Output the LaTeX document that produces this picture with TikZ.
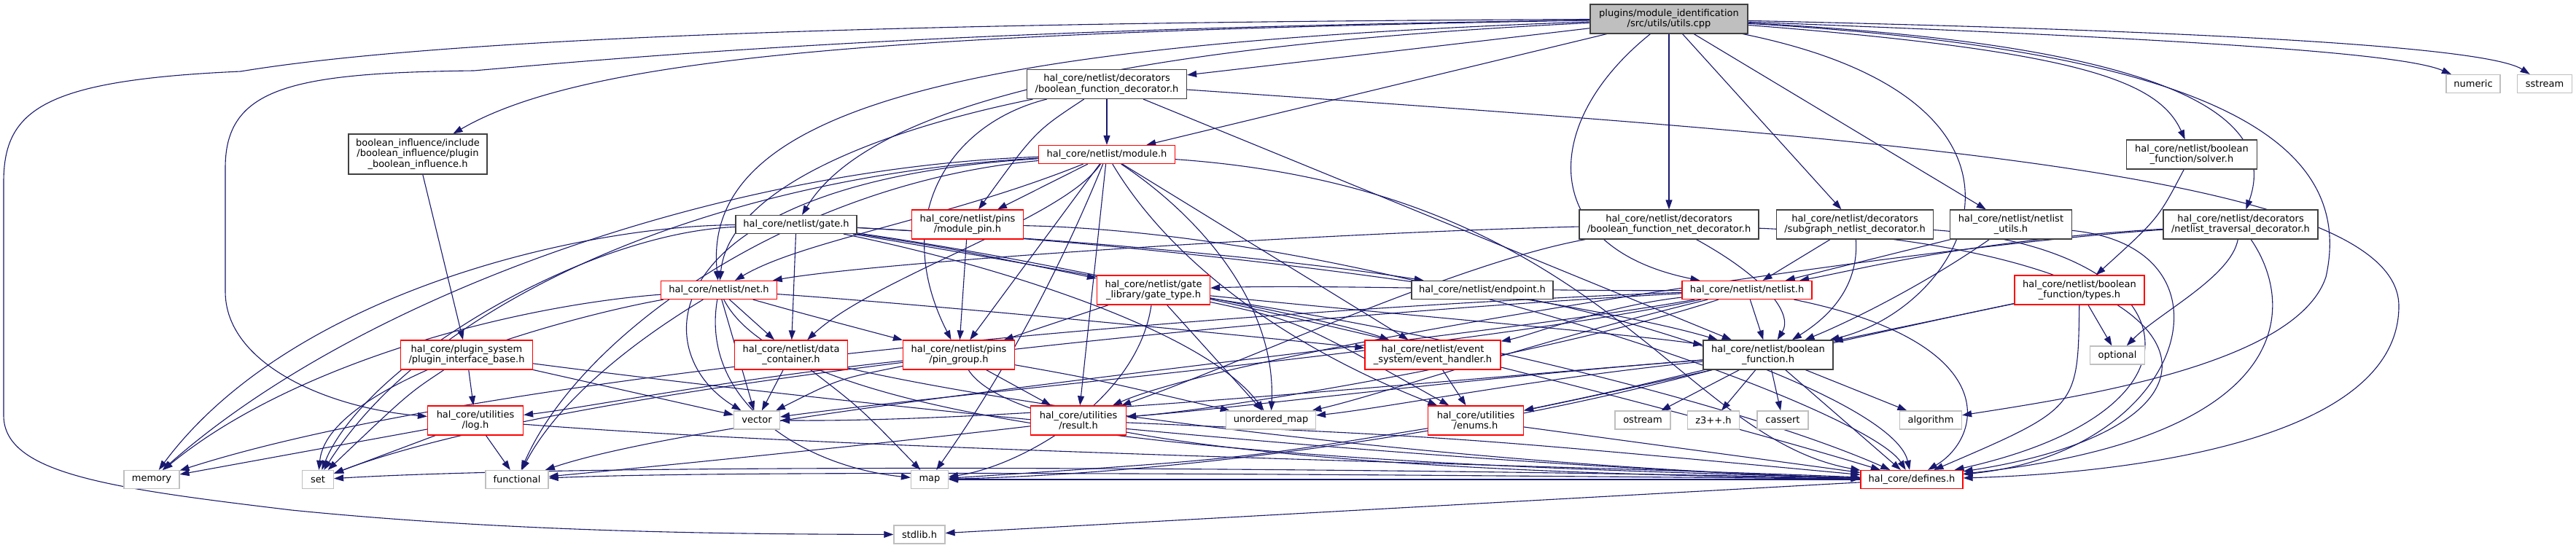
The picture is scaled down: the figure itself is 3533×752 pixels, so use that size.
\documentclass[tikz,border=0pt]{standalone}
\usepackage{fontspec}
\setmainfont{DejaVu Sans}
\usetikzlibrary{arrows.meta}
\definecolor{edgec}{HTML}{191970}
\definecolor{redb}{HTML}{FF0000}
\definecolor{grayb}{HTML}{BFBFBF}
\definecolor{blackb}{HTML}{404040}
\definecolor{rootfill}{HTML}{BFBFBF}
\pgfdeclarelayer{back}
\pgfdeclarelayer{edges}
\pgfsetlayers{back,edges,main}
\tikzset{
 nd/.style={rectangle, inner sep=0pt, align=center, font=\fontsize{13}{14.5}\selectfont, line width=1.2pt, fill=white},
 blk/.style={nd, draw=blackb},
 rd/.style={nd, draw=redb},
 gr/.style={nd, draw=grayb},
 e/.style={draw=edgec, line width=1.1pt, -{Triangle[length=13pt,width=9pt]}},
}
\begin{document}
\begin{tikzpicture}[x=1pt,y=-1pt]
\useasboundingbox (0,0) rectangle (3533,752);
\begin{pgfonlayer}{back}
\fill[white] (0,0) rectangle (3533,752);
\end{pgfonlayer}
% nodes
\node[blk, fill=rootfill, minimum width=216pt, minimum height=40pt] (R) at (2289,26) {plugins/module\_identification\\/src/utils/utils.cpp};
\node[blk, minimum width=190pt, minimum height=55pt] (bi) at (573,211.5) {boolean\_influence/include\\/boolean\_influence/plugin\\\_boolean\_influence.h};
\node[blk, minimum width=219pt, minimum height=40pt] (bfd) at (1518,115.5) {hal\_core/netlist/decorators\\/boolean\_function\_decorator.h};
\node[rd, minimum width=187pt, minimum height=25pt] (mod) at (1518,212) {hal\_core/netlist/module.h};
\node[rd, minimum width=153pt, minimum height=40pt] (mpin) at (1327,308) {hal\_core/netlist/pins\\/module\_pin.h};
\node[blk, minimum width=166pt, minimum height=25pt] (gate) at (1092,308) {hal\_core/netlist/gate.h};
\node[rd, minimum width=159pt, minimum height=25pt] (net) at (986,398) {hal\_core/netlist/net.h};
\node[rd, minimum width=181pt, minimum height=40pt] (pib) at (640,487) {hal\_core/plugin\_system\\/plugin\_interface\_base.h};
\node[rd, minimum width=131pt, minimum height=40pt] (log) at (652,577) {hal\_core/utilities\\/log.h};
\node[gr, minimum width=76pt, minimum height=25pt] (nmem) at (208,658) {memory};
\node[gr, minimum width=43pt, minimum height=25pt] (nset) at (436,658) {set};
\node[gr, minimum width=86pt, minimum height=25pt] (nfun) at (709,658) {functional};
\node[gr, minimum width=63pt, minimum height=25pt] (nvec) at (1038,576.5) {vector};
\node[rd, minimum width=155pt, minimum height=40pt] (dc) at (1085,487) {hal\_core/netlist/data\\\_container.h};
\node[rd, minimum width=155pt, minimum height=40pt] (gt) at (1582,398) {hal\_core/netlist/gate\\\_library/gate\_type.h};
\node[rd, minimum width=153pt, minimum height=40pt] (pg) at (1315,487) {hal\_core/netlist/pins\\/pin\_group.h};
\node[rd, minimum width=131pt, minimum height=40pt] (res) at (1479,577) {hal\_core/utilities\\/result.h};
\node[gr, minimum width=51pt, minimum height=25pt] (nmap) at (1275,658) {map};
\node[gr, minimum width=70pt, minimum height=25pt] (nstd) at (1261,733.5) {stdlib.h};
\node[gr, minimum width=123pt, minimum height=25pt] (numap) at (1743,576.5) {unordered\_map};
\node[blk, minimum width=194pt, minimum height=25pt] (ep) at (2033,398) {hal\_core/netlist/endpoint.h};
\node[rd, minimum width=186pt, minimum height=40pt] (eh) at (1965,487) {hal\_core/netlist/event\\\_system/event\_handler.h};
\node[rd, minimum width=131pt, minimum height=40pt] (en) at (2024,577) {hal\_core/utilities\\/enums.h};
\node[gr, minimum width=76pt, minimum height=25pt] (nost) at (2253,576.5) {ostream};
\node[gr, minimum width=71pt, minimum height=25pt] (nz3) at (2350,576.5) {z3++.h};
\node[gr, minimum width=70pt, minimum height=25pt] (ncas) at (2445,576.5) {cassert};
\node[gr, minimum width=85pt, minimum height=25pt] (nalg) at (2648,576.5) {algorithm};
\node[rd, minimum width=140pt, minimum height=25pt] (def) at (2622,658) {hal\_core/defines.h};
\node[blk, minimum width=178pt, minimum height=40pt] (bf) at (2425,487) {hal\_core/netlist/boolean\\\_function.h};
\node[rd, minimum width=178pt, minimum height=25pt] (nl) at (2396,398) {hal\_core/netlist/netlist.h};
\node[rd, minimum width=178pt, minimum height=40pt] (ty) at (2852,398) {hal\_core/netlist/boolean\\\_function/types.h};
\node[gr, minimum width=75pt, minimum height=25pt] (nopt) at (2904,487.5) {optional};
\node[blk, minimum width=246pt, minimum height=40pt] (bfnd) at (2289,308) {hal\_core/netlist/decorators\\/boolean\_function\_net\_decorator.h};
\node[blk, minimum width=215pt, minimum height=40pt] (sg) at (2544,308) {hal\_core/netlist/decorators\\/subgraph\_netlist\_decorator.h};
\node[blk, minimum width=167pt, minimum height=40pt] (nu) at (2758,308) {hal\_core/netlist/netlist\\\_utils.h};
\node[blk, minimum width=179pt, minimum height=40pt] (sol) at (3006,212) {hal\_core/netlist/boolean\\\_function/solver.h};
\node[blk, minimum width=212pt, minimum height=40pt] (tr) at (3073,308) {hal\_core/netlist/decorators\\/netlist\_traversal\_decorator.h};
\node[gr, minimum width=74pt, minimum height=25pt] (nnum) at (3392,115) {numeric};
\node[gr, minimum width=75pt, minimum height=25pt] (nsst) at (3490,115) {sstream};
% edges
\begin{pgfonlayer}{edges}
% root
\draw[e] (R) .. controls (1200,45) and (800,80) .. (bi);
\draw[e] (R) .. controls (1400,30) and (650,45) .. (330,98) .. controls (60,110) and (5,150) .. (5,250) -- (5,570) .. controls (5,650) and (150,670) .. (400,700) .. controls (700,730) and (1000,733) .. (nstd);
\draw[e] (R) .. controls (1300,40) and (900,75) .. (650,97) .. controls (400,100) and (309,120) .. (309,230) -- (309,400) .. controls (309,500) and (450,560) .. (log);
\draw[e] (R) .. controls (1600,60) and (1200,130) .. (gate);
\draw[e] (R) .. controls (1350,60) and (960,140) .. (net);
\draw[e] (R) .. controls (2000,60) .. (bfd);
\draw[e] (R) -- (mod);
\draw[e] (R) -- (bfnd);
\draw[e] (R) -- (sg);
\draw[e] (R) -- (nu);
\draw[e] (R) .. controls (2110,170) and (2110,340) .. (nl);
\draw[e] (R) .. controls (2850,140) and (2700,420) .. (bf);
\draw[e] (R) .. controls (2850,70) and (2960,110) .. (sol);
\draw[e] (R) .. controls (2950,60) and (3130,150) .. (tr);
\draw[e] (R) .. controls (3050,55) and (3300,75) .. (nnum);
\draw[e] (R) .. controls (3150,45) and (3420,70) .. (nsst);
\draw[e] (R) .. controls (3050,70) and (3230,200) .. (3190,380) .. controls (3150,500) and (2850,545) .. (nalg);
% bool influence
\draw[e] (bi) -- (pib);
% bfd
\draw[e] (bfd) -- (mod);
\draw[e] (bfd) .. controls (1420,180) .. (mpin);
\draw[e] (bfd) .. controls (1300,170) and (1220,300) .. (pg);
\draw[e] (bfd) .. controls (1200,180) and (1000,260) .. (net);
\draw[e] (bfd) -- (bf);
\draw[e] (bfd) .. controls (2600,190) and (3290,240) .. (3290,420) .. controls (3290,610) and (2900,650) .. (def);
% module
\draw[e] (mod) -- (mpin);
\draw[e] (mod) -- (pg);
\draw[e] (mod) .. controls (1300,300) and (1100,330) .. (net);
\draw[e] (mod) .. controls (1460,300) and (1200,380) .. (dc);
\draw[e] (mod) -- (eh);
\draw[e] (mod) -- (res);
\draw[e] (mod) .. controls (1600,350) and (1750,470) .. (en);
\draw[e] (mod) .. controls (1000,230) and (500,400) .. (nmem);
\draw[e] (mod) .. controls (1000,240) and (600,400) .. (nset);
\draw[e] (mod) .. controls (1100,250) and (800,450) .. (nfun);
\draw[e] (mod) .. controls (900,250) and (880,480) .. (nvec);
\draw[e] (mod) .. controls (1470,330) and (1400,480) .. (nmap);
\draw[e] (mod) .. controls (1650,300) and (1750,420) .. (numap);
\draw[e] (mod) .. controls (2200,260) and (2300,600) .. (def);
% module pin
\draw[e] (mpin) -- (pg);
\draw[e] (mpin) .. controls (1900,320) and (2560,560) .. (def);
% gate
\draw[e] (gate) .. controls (1300,340) .. (gt);
\draw[e] (gate) .. controls (1500,330) and (1800,360) .. (ep);
\draw[e] (gate) .. controls (1400,360) and (1800,430) .. (eh);
\draw[e] (gate) -- (dc);
\draw[e] (gate) .. controls (1700,340) and (2200,420) .. (bf);
\draw[e] (gate) .. controls (800,310) and (400,400) .. (nmem);
\draw[e] (gate) .. controls (800,320) and (500,500) .. (nset);
\draw[e] (gate) .. controls (1350,360) and (1650,450) .. (numap);
\draw[e] (gate) .. controls (1600,380) and (2300,560) .. (def);
% net
\draw[e] (net) -- (dc);
\draw[e] (net) .. controls (1300,420) and (1700,460) .. (eh);
\draw[e] (net) .. controls (1100,430) .. (pg);
\draw[e] (net) .. controls (700,420) and (400,500) .. (nmem);
\draw[e] (net) .. controls (800,430) and (450,520) .. (nset);
\draw[e] (net) .. controls (850,480) and (760,560) .. (nfun);
\draw[e] (net) -- (nvec);
\draw[e] (net) .. controls (960,550) and (1100,640) .. (nmap);
\draw[e] (net) .. controls (1100,620) and (2000,640) .. (def);
% gate type
\draw[e] (gt) -- (pg);
\draw[e] (gt) .. controls (1900,430) and (2250,460) .. (bf);
\draw[e] (gt) .. controls (1780,440) .. (en);
\draw[e] (gt) .. controls (1560,550) and (1400,640) .. (nmap);
\draw[e] (gt) -- (numap);
\draw[e] (gt) .. controls (2000,460) and (2400,560) .. (def);
% endpoint
\draw[e] (ep) .. controls (2300,450) and (2600,560) .. (def);
% plugin interface
\draw[e] (pib) -- (log);
\draw[e] (pib) .. controls (560,540) .. (nset);
\draw[e] (pib) -- (nvec);
\draw[e] (pib) .. controls (1200,560) and (2000,640) .. (def);
% data container
\draw[e] (dc) -- (nvec);
\draw[e] (dc) .. controls (1180,560) .. (nmap);
\draw[e] (dc) .. controls (1400,560) and (2000,640) .. (def);
% pin group
\draw[e] (pg) .. controls (1000,520) and (800,560) .. (log);
\draw[e] (pg) -- (res);
\draw[e] (pg) .. controls (1150,520) .. (nvec);
\draw[e] (pg) .. controls (1500,520) .. (numap);
\draw[e] (pg) .. controls (1400,620) and (2000,650) .. (def);
% event handler
\draw[e] (eh) -- (en);
% boolean function
\draw[e] (bf) .. controls (2200,540) .. (en);
\draw[e] (bf) .. controls (2000,520) and (1700,560) .. (res);
\draw[e] (bf) -- (def);
\draw[e] (bf) -- (nz3);
\draw[e] (bf) -- (ncas);
\draw[e] (bf) -- (nalg);
\draw[e] (bf) -- (nost);
\draw[e] (bf) .. controls (2000,600) and (1600,650) .. (nmap);
\draw[e] (bf) .. controls (2100,520) and (1900,560) .. (numap);
\draw[e] (bf) .. controls (2000,520) and (1400,580) .. (nvec);
% enums, result, log
\draw[e] (en) -- (def);
\draw[e] (en) .. controls (1700,630) .. (nmap);
\draw[e] (res) .. controls (2000,600) .. (def);
\draw[e] (res) .. controls (1200,610) and (900,640) .. (nfun);
\draw[e] (log) -- (nmem);
\draw[e] (log) -- (nset);
\draw[e] (log) -- (nfun);
\draw[e] (log) .. controls (1200,620) and (2200,640) .. (def);
% netlist
\draw[e] (nl) .. controls (2200,420) and (2100,460) .. (eh);
\draw[e] (nl) -- (bf);
\draw[e] (nl) .. controls (2750,470) and (2720,600) .. (def);
\draw[e] (nl) .. controls (2100,400) and (1800,390) .. (gt);
\draw[e] (nl) .. controls (1800,420) and (700,500) .. (nmem);
\draw[e] (nl) .. controls (1800,430) and (800,520) .. (nset);
\draw[e] (nl) .. controls (2000,470) and (1000,560) .. (nfun);
\draw[e] (nl) .. controls (2100,470) and (1900,540) .. (numap);
\draw[e] (nl) .. controls (2000,480) and (1300,540) .. (nvec);
\draw[e] (nl) .. controls (2150,480) and (1700,560) .. (res);
% types
\draw[e] (ty) -- (bf);
\draw[e] (ty) -- (nopt);
\draw[e] (ty) .. controls (2850,560) .. (def);
\draw[e] (ty) .. controls (2600,450) and (2300,520) .. (en);
% solver
\draw[e] (sol) .. controls (2960,300) .. (ty);
% traversal
\draw[e] (tr) .. controls (2700,330) and (2550,370) .. (nl);
\draw[e] (tr) .. controls (2600,340) and (1700,480) .. (res);
\draw[e] (tr) .. controls (3060,380) and (2960,430) .. (nopt);
\draw[e] (tr) .. controls (3150,420) and (3150,600) .. (def);
% bf net decorator
\draw[e] (bfnd) .. controls (2420,380) and (2460,430) .. (bf);
\draw[e] (bfnd) .. controls (1800,320) and (1200,360) .. (net);
\draw[e] (bfnd) .. controls (2000,360) and (1700,500) .. (res);
\draw[e] (bfnd) .. controls (3050,340) and (3120,580) .. (def);
% subgraph
\draw[e] (sg) -- (nl);
\draw[e] (sg) .. controls (2550,400) and (2500,440) .. (bf);
\draw[e] (sg) .. controls (3000,340) and (3060,560) .. (def);
% netlist utils
\draw[e] (nu) -- (nl);
\draw[e] (nu) .. controls (2640,390) and (2540,440) .. (bf);
\draw[e] (nu) .. controls (3080,340) and (3000,620) .. (def);
% defines
\draw[e] (def) -- (nstd);
\draw[e] (def) -- (nmap);
\draw[e] (def) .. controls (1800,640) and (800,636) .. (nset);
\draw[e] (def) .. controls (1800,650) and (1000,645) .. (nfun);
\end{pgfonlayer}
\end{tikzpicture}
\end{document}
